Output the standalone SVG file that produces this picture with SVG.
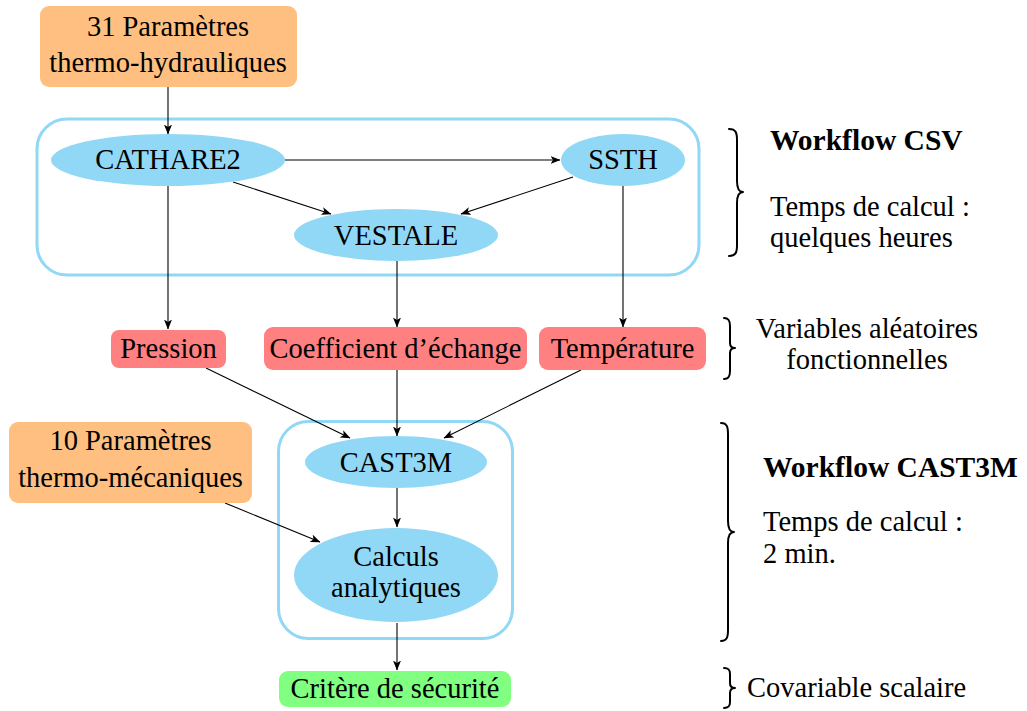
<svg xmlns="http://www.w3.org/2000/svg" width="1027" height="711" viewBox="0 0 1027 711">
<style>
text{font-family:"Liberation Serif","Times New Roman",serif;font-size:28.5px;fill:#000}
.c{text-anchor:middle}
.b{font-weight:bold;font-size:29.5px}
.orange{fill:#ffbf80}
.red{fill:#ff8080}
.green{fill:#80ff80}
.blue{fill:#90d8f5}
.cont{fill:none;stroke:#90d8f5;stroke-width:3}
.edge{fill:none;stroke:#000;stroke-width:1.1;marker-end:url(#ah)}
.brace{fill:none;stroke:#000;stroke-width:2;stroke-linecap:round;stroke-linejoin:round}
</style>
<defs>
<marker id="ah" markerUnits="userSpaceOnUse" markerWidth="10" markerHeight="8" viewBox="0 0 10 8" refX="9.5" refY="4" orient="auto">
<path d="M0,0 L10,4 L0,8 L2.5,4 z" fill="#000"/>
</marker>
</defs>
<rect width="1027" height="711" fill="#fff"/>
<g id="containers">
<rect id="workflow-csv" class="cont" x="37" y="119" width="662" height="156" rx="30"/>
<rect id="workflow-cast3m" class="cont" x="278.5" y="421.5" width="234" height="217" rx="30"/>
</g>
<g id="connectors">
<line class="edge" x1="168" y1="87" x2="168" y2="134"/>
<line class="edge" x1="285" y1="160" x2="560" y2="160"/>
<line class="edge" x1="233" y1="182" x2="331" y2="214"/>
<line class="edge" x1="573" y1="177" x2="461" y2="214"/>
<line class="edge" x1="168" y1="186" x2="168" y2="329"/>
<line class="edge" x1="397" y1="261" x2="397" y2="327"/>
<line class="edge" x1="623" y1="186" x2="623" y2="327"/>
<line class="edge" x1="206" y1="368" x2="350" y2="438"/>
<line class="edge" x1="397" y1="370" x2="397" y2="436"/>
<line class="edge" x1="581" y1="370" x2="444" y2="438"/>
<line class="edge" x1="397" y1="488" x2="397" y2="527"/>
<line class="edge" x1="225" y1="503" x2="320" y2="542"/>
<line class="edge" x1="397" y1="623" x2="397" y2="670"/>
</g>
<g id="n-params-th">
<rect class="orange" x="40" y="6" width="257" height="81" rx="9"/>
<text class="c" x="168" y="36">31 Paramètres</text>
<text class="c" x="168" y="72">thermo-hydrauliques</text>
</g>
<g id="n-cathare2">
<ellipse class="blue" cx="168" cy="160" rx="117" ry="26"/>
<text class="c" x="168" y="169">CATHARE2</text>
</g>
<g id="n-ssth">
<ellipse class="blue" cx="623" cy="160" rx="62" ry="26"/>
<text class="c" x="623" y="169">SSTH</text>
</g>
<g id="n-vestale">
<ellipse class="blue" cx="396" cy="235" rx="102" ry="26"/>
<text class="c" x="396" y="245">VESTALE</text>
</g>
<g id="n-pression">
<rect class="red" x="111" y="330" width="115" height="38" rx="8"/>
<text class="c" x="168.5" y="358">Pression</text>
</g>
<g id="n-coef">
<rect class="red" x="264" y="327" width="263" height="43" rx="9"/>
<text class="c" x="395.5" y="358">Coefficient d’échange</text>
</g>
<g id="n-temp">
<rect class="red" x="539" y="327" width="167" height="43" rx="9"/>
<text class="c" x="622.5" y="358">Température</text>
</g>
<g id="n-params-tm">
<rect class="orange" x="9" y="422" width="243" height="81" rx="9"/>
<text class="c" x="130.5" y="450">10 Paramètres</text>
<text class="c" x="130.5" y="487">thermo-mécaniques</text>
</g>
<g id="n-cast3m">
<ellipse class="blue" cx="396" cy="462" rx="91" ry="26"/>
<text class="c" x="396" y="472">CAST3M</text>
</g>
<g id="n-calculs">
<ellipse class="blue" cx="396" cy="575" rx="102" ry="47"/>
<text class="c" x="396" y="566">Calculs</text>
<text class="c" x="396" y="597">analytiques</text>
</g>
<g id="n-critere">
<rect class="green" x="279" y="671" width="232" height="36" rx="9"/>
<text class="c" x="395" y="698">Critère de sécurité</text>
</g>
<g id="annotations">
<path class="brace" d="M729 129 C736 129 737 133 737 140 L737 181 C737 188 739 192 743 192 C739 192 737 196 737 203 L737 245 C737 252 736 256 729 256"/>
<text class="b" x="770" y="150">Workflow CSV</text>
<text x="770" y="216">Temps de calcul :</text>
<text x="770" y="247">quelques heures</text>
<path class="brace" d="M724 318 C729 318 730 321 730 326 L730 343 C730 346 732 348 735 348 C732 348 730 350 730 353 L730 371 C730 376 729 379 724 379"/>
<text class="c" x="867" y="338">Variables aléatoires</text>
<text class="c" x="867" y="369">fonctionnelles</text>
<path class="brace" d="M721 423 C727 423 728 427 728 434 L728 521 C728 528 730 532 734 532 C730 532 728 536 728 543 L728 630 C728 637 727 641 721 641"/>
<text class="b" x="763" y="477">Workflow CAST3M</text>
<text x="763" y="531">Temps de calcul :</text>
<text x="763" y="563">2 min.</text>
<path class="brace" d="M724 668 C729 668 730 670 730 674 L730 683 C730 686 732 688 735 688 C732 688 730 690 730 693 L730 702 C730 706 729 708 724 708"/>
<text x="747" y="697">Covariable scalaire</text>
</g>
</svg>
